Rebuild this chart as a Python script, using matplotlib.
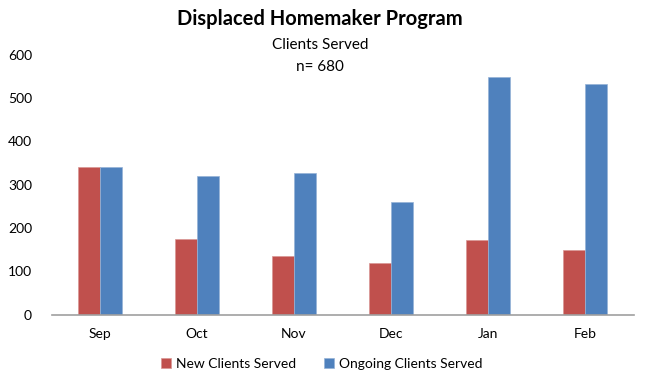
import matplotlib
matplotlib.use("Agg")
import matplotlib.pyplot as plt
import numpy as np

plt.rcParams['font.family'] = ['Lato', 'DejaVu Sans']

months = ["Sep", "Oct", "Nov", "Dec", "Jan", "Feb"]
new_clients = [340, 174, 135, 119, 172, 149]
ongoing_clients = [341, 320, 327, 259, 550, 533]
series_names = ["New Clients Served", "Ongoing Clients Served"]
y_ticks = [0, 100, 200, 300, 400, 500, 600]

red = "#C0504D"
blue = "#4F81BD"

fig = plt.figure(figsize=(6.45, 3.75), dpi=100)
ax = fig.add_axes([51.5 / 645, 1 - 314.5 / 375, 582 / 645, 259.5 / 375])

x = np.arange(len(months))
w = 0.227
ax.bar(x - w / 2, new_clients, width=w, color=red, label=series_names[0],
       edgecolor="#D99694", linewidth=0.5)
ax.bar(x + w / 2, ongoing_clients, width=w, color=blue, label=series_names[1],
       edgecolor="#95B3D7", linewidth=0.5)

ax.set_xlim(-0.5, len(months) - 0.5)
ax.set_ylim(0, 600)
ax.set_yticks(y_ticks)
ax.set_yticklabels([str(v) for v in y_ticks], fontsize=10)
ax.set_xticks(x)
ax.set_xticklabels(months, fontsize=10)
ax.tick_params(axis="both", length=0, pad=10)
ax.tick_params(axis="y", pad=14)

for s in ["top", "right", "left"]:
    ax.spines[s].set_visible(False)
ax.spines["bottom"].set_color("#A0A0A0")
ax.spines["bottom"].set_linewidth(1.2)

fig.text(0.496, 1 - 19 / 375, "Displaced Homemaker Program", ha="center", va="center",
         fontsize=14.5, fontweight="bold")
fig.text(0.496, 1 - 45 / 375, "Clients Served", ha="center", va="center", fontsize=11)
fig.text(0.496, 1 - 67 / 375, "n= 680", ha="center", va="center", fontsize=11)

fig.legend(loc="center", bbox_to_anchor=(322 / 645, 1 - 364 / 375), ncol=2,
           frameon=False, fontsize=10, handlelength=0.7, handleheight=0.7,
           columnspacing=2.0, handletextpad=0.4)

fig.savefig("out.png", dpi=100)
